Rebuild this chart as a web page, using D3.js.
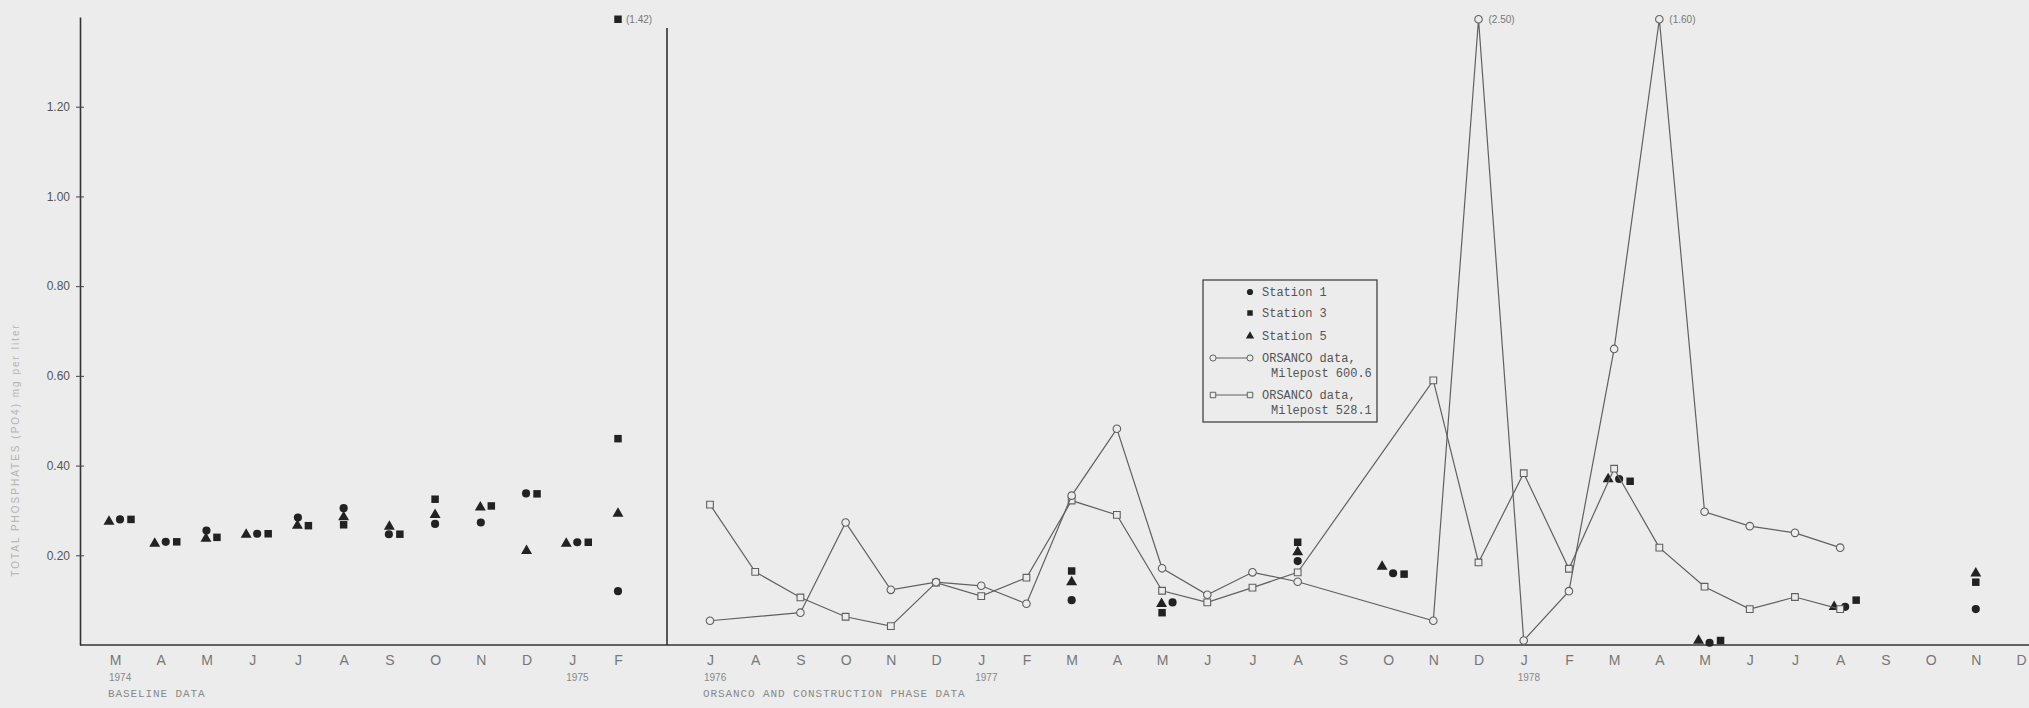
<!DOCTYPE html>
<html>
<head>
<meta charset="utf-8">
<script src="https://cdn.jsdelivr.net/npm/d3@7"></script>
<style>
  body { margin: 0; background: #ececec; }
  svg { display: block; }
</style>
</head>
<body>
<div id="chart"></div>
<script>
// baseline data, Mar 1974 - Feb 1975
const leftMonths = ['M','A','M','J','J','A','S','O','N','D','J','F'];
const leftStation1 = [0.28, 0.23, 0.255, 0.248, 0.284, 0.305, 0.247, 0.27, 0.273, 0.338, 0.229, 0.12];
const leftStation3 = [0.28, 0.23, 0.24, 0.248, 0.266, 0.268, 0.247, 0.325, 0.31, 0.337, 0.229, 0.46];
const leftStation5 = [0.275, 0.226, 0.237, 0.246, 0.266, 0.285, 0.264, 0.29, 0.307, 0.21, 0.226, 0.293];
const leftStation3High = [null, null, null, null, null, null, null, null, null, null, null, 1.42];
const leftYears = ['1974', '1975'];
const leftYearAt = [0, 10];

// ORSANCO and construction phase data, Jul 1976 - Dec 1978
const rightMonths = ['J','A','S','O','N','D',
  'J','F','M','A','M','J','J','A','S','O','N','D',
  'J','F','M','A','M','J','J','A','S','O','N','D'];
const rightStation1 = [null, null, null, null, null, null,
  null, null, 0.10, null, 0.095, null, null, 0.187, null, 0.16, null, null,
  null, null, 0.37, null, 0.005, null, null, 0.085, null, null, 0.08, null];
const rightStation3 = [null, null, null, null, null, null,
  null, null, 0.165, null, 0.072, null, null, 0.229, null, 0.158, null, null,
  null, null, 0.365, null, 0.01, null, null, 0.10, null, null, 0.14, null];
const rightStation5 = [null, null, null, null, null, null,
  null, null, 0.14, null, 0.092, null, null, 0.207, null, 0.175, null, null,
  null, null, 0.37, null, 0.01, null, null, 0.085, null, null, 0.16, null];
const orsanco600 = [0.054, null, 0.072, 0.273, 0.123, 0.14,
  0.132, 0.092, 0.333, 0.482, 0.171, 0.112, 0.162, 0.141, null, null, 0.054, 2.50,
  0.01, 0.12, 0.66, 1.60, 0.297, 0.265, 0.25, 0.217, null, null, null, null];
const orsanco528 = [0.313, 0.163, 0.106, 0.063, 0.042, 0.139,
  0.109, 0.150, 0.322, 0.29, 0.121, 0.095, 0.128, 0.162, null, null, 0.59, 0.184,
  0.383, 0.17, 0.393, 0.217, 0.13, 0.08, 0.107, 0.08, null, null, null, null];
const rightYears = ['1976', '1977', '1978'];
const rightYearAt = [0, 6, 18];

const yTicks = [0.2, 0.4, 0.6, 0.8, 1.0, 1.2];

const width = 2029, height = 708;
const cap = 1.395; // values above this are drawn at the top with a label

const svg = d3.select('#chart')
  .append('svg')
  .attr('width', width)
  .attr('height', height);

// scales
const y = d3.scaleLinear().domain([0, 1.4]).range([645, 17]);
const xLeft = d3.scalePoint().domain(d3.range(leftMonths.length)).range([115, 618]);
const xRight = d3.scalePoint().domain(d3.range(rightMonths.length)).range([710, 2021]);

const ink = '#222';
const grey = '#606060';

// y axis
const yAxis = d3.axisLeft(y)
  .tickValues(yTicks)
  .tickSize(4)
  .tickSizeOuter(0)
  .tickPadding(6)
  .tickFormat(d3.format('.2f'));

const yAxisGroup = svg.append('g')
  .attr('transform', 'translate(80,0)')
  .call(yAxis);
yAxisGroup.select('.domain').attr('stroke', '#333').attr('stroke-width', 1.6);
yAxisGroup.selectAll('.tick line').attr('x1', 4).attr('stroke', '#444');
yAxisGroup.selectAll('.tick text')
  .attr('fill', '#555')
  .style('font', '12px "Liberation Sans", Arial, sans-serif');

// y title (faint in the scan)
svg.append('text')
  .attr('transform', 'translate(19,450) rotate(-90)')
  .attr('text-anchor', 'middle')
  .attr('fill', '#b4b4b4')
  .style('font', '10px "Liberation Sans", Arial, sans-serif')
  .style('letter-spacing', '2px')
  .text('TOTAL PHOSPHATES (PO4) mg per liter');

// x axis line
svg.append('line')
  .attr('x1', 80).attr('x2', width)
  .attr('y1', y(0)).attr('y2', y(0))
  .attr('stroke', '#333')
  .attr('stroke-width', 1.6);

// divider between the two periods
svg.append('line')
  .attr('x1', 667).attr('x2', 667)
  .attr('y1', 28).attr('y2', y(0))
  .attr('stroke', '#333')
  .attr('stroke-width', 1.6);

// month labels
function monthAxis(scale, months) {
  const g = svg.append('g')
    .attr('transform', `translate(0,${y(0)})`)
    .call(d3.axisBottom(scale).tickSize(0).tickPadding(10).tickFormat(i => months[i]));
  g.select('.domain').remove();
  g.selectAll('text')
    .attr('fill', '#777')
    .style('font', '14px "Liberation Sans", Arial, sans-serif');
}
monthAxis(xLeft, leftMonths);
monthAxis(xRight, rightMonths);

// year labels
function yearLabels(scale, years, at) {
  svg.append('g').selectAll('text')
    .data(years)
    .join('text')
    .attr('x', (d, k) => scale(at[k]) - 6)
    .attr('y', 681)
    .attr('fill', '#888')
    .style('font', '10px "Liberation Sans", Arial, sans-serif')
    .text(d => d);
}
yearLabels(xLeft, leftYears, leftYearAt);
yearLabels(xRight, rightYears, rightYearAt);

// period captions
svg.append('text')
  .attr('x', 108).attr('y', 697)
  .attr('fill', '#888')
  .style('font', '11px "Liberation Mono", monospace')
  .style('letter-spacing', '0.9px')
  .text('BASELINE DATA');
svg.append('text')
  .attr('x', 703).attr('y', 697)
  .attr('fill', '#888')
  .style('font', '11px "Liberation Mono", monospace')
  .style('letter-spacing', '0.9px')
  .text('ORSANCO AND CONSTRUCTION PHASE DATA');

// symbols
const symbolFor = {
  circle: d3.symbol().type(d3.symbolCircle).size(52),
  square: d3.symbol().type(d3.symbolSquare).size(56),
  triangle: d3.symbol().type(d3.symbolTriangle).size(52)
};
const typeOrder = ['triangle', 'circle', 'square'];

// station points, spread sideways when they sit on top of each other
function stationPoints(scale, s1, s3, s5) {
  const pts = [];
  s5.forEach((v, i) => { if (v != null) pts.push({ i, v, type: 'triangle' }); });
  s1.forEach((v, i) => { if (v != null) pts.push({ i, v, type: 'circle' }); });
  s3.forEach((v, i) => { if (v != null) pts.push({ i, v, type: 'square' }); });

  const groups = d3.group(pts, d => d.i);
  groups.forEach(list => {
    list.forEach(d => { d.py = y(Math.min(d.v, cap)); d.dx = 0; });
    // cluster points closer than 7px vertically
    const clusters = [];
    list.forEach(d => {
      const c = clusters.find(c => c.some(o => Math.abs(o.py - d.py) < 7));
      if (c) c.push(d); else clusters.push([d]);
    });
    clusters.forEach(c => {
      if (c.length < 2) return;
      c.sort((a, b) => typeOrder.indexOf(a.type) - typeOrder.indexOf(b.type));
      c.forEach((d, k) => { d.dx = (k - (c.length - 1) / 2) * 11 + 5; });
    });
  });

  svg.append('g').selectAll('path')
    .data(pts)
    .join('path')
    .attr('transform', d => `translate(${scale(d.i) + d.dx},${d.py})`)
    .attr('d', d => symbolFor[d.type]())
    .attr('fill', ink);

  // off-scale labels
  svg.append('g').selectAll('text')
    .data(pts.filter(d => d.v > cap))
    .join('text')
    .attr('x', d => scale(d.i) + d.dx + 8)
    .attr('y', d => d.py + 4)
    .attr('fill', '#777')
    .style('font', '10px "Liberation Sans", Arial, sans-serif')
    .text(d => `(${d.v.toFixed(2)})`);
}

stationPoints(xLeft, leftStation1, leftStation3, leftStation5);
stationPoints(xLeft, [], leftStation3High, []);
stationPoints(xRight, rightStation1, rightStation3, rightStation5);

// ORSANCO lines
const line = d3.line()
  .x(d => xRight(d.i))
  .y(d => y(Math.min(d.v, cap)));

function orsancoSeries(values, marker) {
  const data = values.map((v, i) => ({ i, v })).filter(d => d.v != null);
  const g = svg.append('g');
  g.append('path')
    .datum(data)
    .attr('fill', 'none')
    .attr('stroke', grey)
    .attr('stroke-width', 1.2)
    .attr('d', line);
  g.selectAll('path.pt')
    .data(data)
    .join('path')
    .attr('class', 'pt')
    .attr('transform', d => `translate(${xRight(d.i)},${y(Math.min(d.v, cap))})`)
    .attr('d', marker === 'circle'
      ? d3.symbol().type(d3.symbolCircle).size(45)()
      : d3.symbol().type(d3.symbolSquare).size(45)())
    .attr('fill', '#ececec')
    .attr('stroke', grey)
    .attr('stroke-width', 1.1);
  g.selectAll('text')
    .data(data.filter(d => d.v > cap))
    .join('text')
    .attr('x', d => xRight(d.i) + 10)
    .attr('y', d => y(cap) + 4)
    .attr('fill', '#777')
    .style('font', '10px "Liberation Sans", Arial, sans-serif')
    .text(d => `(${d.v.toFixed(2)})`);
}
orsancoSeries(orsanco528, 'square');
orsancoSeries(orsanco600, 'circle');

// legend
const legend = svg.append('g').attr('transform', 'translate(1203,280)');
legend.append('rect')
  .attr('width', 174).attr('height', 142)
  .attr('fill', '#ececec')
  .attr('stroke', '#444')
  .attr('stroke-width', 1.3);

const legendFont = '12px "Liberation Mono", monospace';
const stationRows = [
  { type: 'circle', label: 'Station 1', ly: 12 },
  { type: 'square', label: 'Station 3', ly: 33 },
  { type: 'triangle', label: 'Station 5', ly: 56 }
];
stationRows.forEach(r => {
  legend.append('path')
    .attr('transform', `translate(47,${r.ly})`)
    .attr('d', d3.symbol().type(r.type === 'circle' ? d3.symbolCircle
      : r.type === 'square' ? d3.symbolSquare : d3.symbolTriangle).size(30)())
    .attr('fill', ink);
  legend.append('text')
    .attr('x', 59).attr('y', r.ly + 4)
    .attr('fill', '#555')
    .style('font', legendFont)
    .text(r.label);
});

const lineRows = [
  { marker: d3.symbolCircle, label: ['ORSANCO data,', 'Milepost 600.6'], ly: 78 },
  { marker: d3.symbolSquare, label: ['ORSANCO data,', 'Milepost 528.1'], ly: 115 }
];
lineRows.forEach(r => {
  legend.append('line')
    .attr('x1', 10).attr('x2', 47)
    .attr('y1', r.ly).attr('y2', r.ly)
    .attr('stroke', grey).attr('stroke-width', 1.1);
  [10, 47].forEach(px => {
    legend.append('path')
      .attr('transform', `translate(${px},${r.ly})`)
      .attr('d', d3.symbol().type(r.marker).size(30)())
      .attr('fill', '#ececec')
      .attr('stroke', grey);
  });
  legend.append('text')
    .attr('x', 59).attr('y', r.ly + 4)
    .attr('fill', '#555')
    .style('font', legendFont)
    .text(r.label[0]);
  legend.append('text')
    .attr('x', 68).attr('y', r.ly + 19)
    .attr('fill', '#555')
    .style('font', legendFont)
    .text(r.label[1]);
});
</script>
</body>
</html>
